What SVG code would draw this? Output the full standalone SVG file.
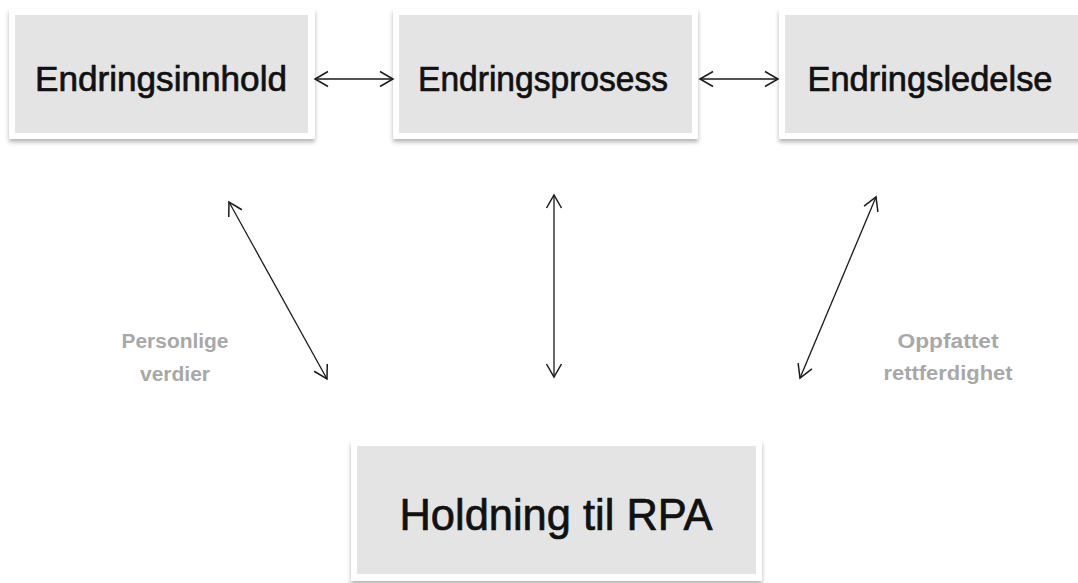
<svg xmlns="http://www.w3.org/2000/svg" width="1078" height="583" viewBox="0 0 1078 583">
  <defs>
    <filter id="sh" x="-5%" y="-10%" width="110%" height="125%">
      <feDropShadow dx="0" dy="3" stdDeviation="2" flood-color="#000" flood-opacity="0.3"/>
    </filter>
    <marker id="ah" markerUnits="userSpaceOnUse" markerWidth="20" markerHeight="20" viewBox="-16 -10 20 20" refX="0" refY="0" orient="auto-start-reverse">
      <path d="M -13 -7.5 L 0 0 L -13 7.5" fill="none" stroke="#1a1a1a" stroke-width="1.5"/>
    </marker>
  </defs>
  <style>
    .frame { fill: #ffffff; filter: url(#sh); }
    .box { fill: #e4e4e4; }
    .t { font-family: "Liberation Sans", Arial, sans-serif; fill: #111; stroke: #111; stroke-width: 0.7; text-anchor: middle; }
    .lbl { font-family: "Liberation Sans", Arial, sans-serif; fill: #a8a8a8; font-size: 20px; font-weight: bold; text-anchor: middle; }
    .c { stroke: #1a1a1a; stroke-width: 1.3; fill: none; marker-start: url(#ah); marker-end: url(#ah); }
  </style>
  <rect width="1078" height="583" fill="#ffffff"/>

  <g id="endringsinnhold">
    <rect class="frame" x="9" y="9" width="306" height="130"/>
    <rect class="box" x="15" y="15" width="293" height="118"/>
    <text class="t" x="161" y="91" font-size="35" textLength="252" lengthAdjust="spacingAndGlyphs">Endringsinnhold</text>
  </g>
  <g id="endringsprosess">
    <rect class="frame" x="393" y="9" width="305" height="130"/>
    <rect class="box" x="399" y="15" width="293" height="118"/>
    <text class="t" x="543" y="91" font-size="35" textLength="250" lengthAdjust="spacingAndGlyphs">Endringsprosess</text>
  </g>
  <g id="endringsledelse">
    <rect class="frame" x="779" y="9" width="306" height="130"/>
    <rect class="box" x="785" y="15" width="300" height="118"/>
    <text class="t" x="930" y="91" font-size="35" textLength="245" lengthAdjust="spacingAndGlyphs">Endringsledelse</text>
  </g>
  <g id="holdning">
    <rect class="frame" x="351" y="441" width="411" height="140"/>
    <rect class="box" x="357" y="446" width="399" height="128"/>
    <text class="t" x="556" y="530" font-size="44" textLength="313" lengthAdjust="spacingAndGlyphs">Holdning til RPA</text>
  </g>

  <g id="labels">
    <text class="lbl" x="175" y="348" textLength="107" lengthAdjust="spacingAndGlyphs">Personlige</text>
    <text class="lbl" x="175" y="381" textLength="70" lengthAdjust="spacingAndGlyphs">verdier</text>
    <text class="lbl" x="948" y="348" textLength="101" lengthAdjust="spacingAndGlyphs">Oppfattet</text>
    <text class="lbl" x="948" y="380" textLength="129" lengthAdjust="spacingAndGlyphs">rettferdighet</text>
  </g>

  <g id="connectors">
    <line class="c" x1="315" y1="79" x2="393" y2="79"/>
    <line class="c" x1="700" y1="79" x2="778" y2="79"/>
    <line class="c" x1="229" y1="202" x2="327" y2="379"/>
    <line class="c" x1="554" y1="195" x2="554" y2="377"/>
    <line class="c" x1="876" y1="197" x2="800" y2="378"/>
  </g>
</svg>
